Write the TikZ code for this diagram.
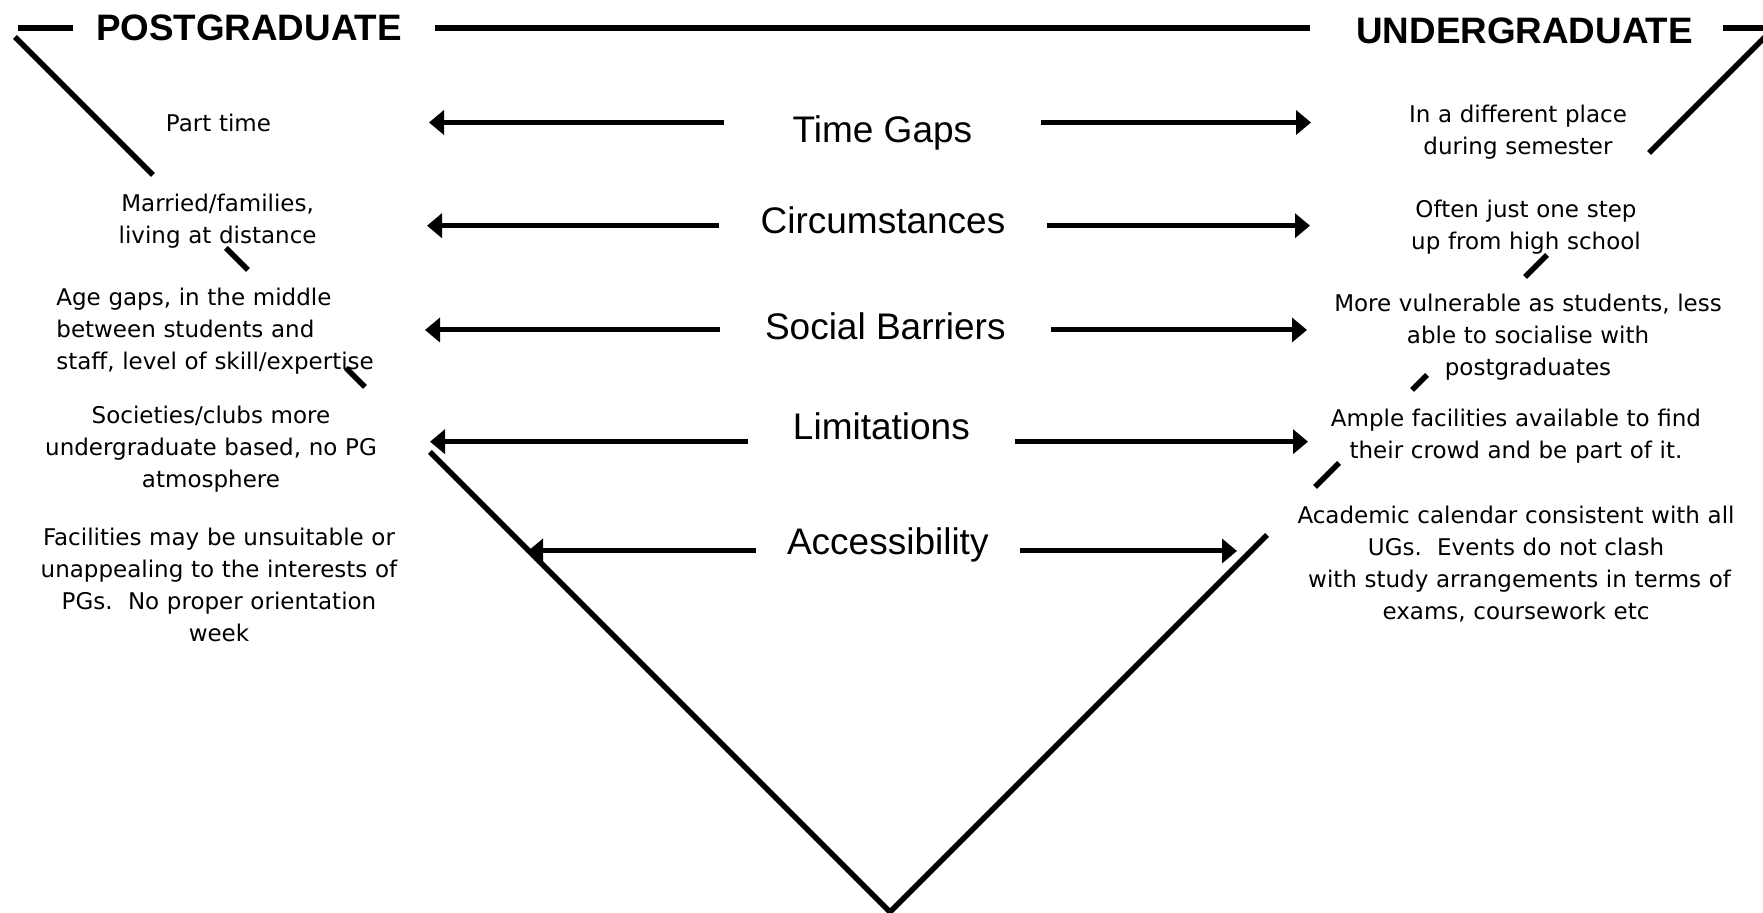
\documentclass[tikz,border=0pt]{standalone}
\usepackage{fontspec}
\usetikzlibrary{arrows.meta}
\newfontfamily\labelfont{Liberation Sans}
\newfontfamily\notefont{DejaVu Sans}

\begin{document}
\begin{tikzpicture}[x=0.5pt,y=-0.5pt,
  frame/.style={line width=2.8pt},
  bar/.style={line width=2.5pt,
    {Triangle[length=7.5pt,width=12pt]}-{Triangle[length=7.5pt,width=12pt]}},
  heading/.style={font=\labelfont\bfseries\fontsize{18.4pt}{22pt}\selectfont,
    inner sep=0pt, anchor=base},
  theme/.style={font=\labelfont\fontsize{18.5pt}{22pt}\selectfont,
    fill=white, inner xsep=0pt, inner ysep=4pt, anchor=base},
  note/.style={font=\notefont\fontsize{11.5pt}{16pt}\selectfont,
    inner sep=0pt, text width=230pt, align=center, anchor=base},
  notel/.style={note, align=left, anchor=base west},
]
\path[use as bounding box, fill=white] (0,0) rectangle (1763,913);

% ---- top rule, interrupted by the two headings
\coordinate (t0) at (18,28);   \coordinate (t1) at (73,28);
\coordinate (t2) at (435,28);  \coordinate (t3) at (1310,28);
\coordinate (t4) at (1723,28); \coordinate (t5) at (1775,28);
\draw[frame] (t0) -- (t1);
\draw[frame] (t2) -- (t3);
\draw[frame] (t4) -- (t5);

% ---- the funnel: two 45 degree sides meeting at the bottom,
%      broken where the side notes sit on them
\coordinate (v) at (890,912);
\draw[frame] (15,37) -- (153,175);
\draw[frame] (226,248) -- (248,270);
\draw[frame] (346,368) -- (365,387);
\draw[frame, miter limit=10] (430,452) -- (v) -- (1267,535);
\draw[frame] (1315,487) -- (1339,463);
\draw[frame] (1412,390) -- (1427,375);
\draw[frame] (1525,277) -- (1547,255);
\draw[frame] (1649,153) -- (1775,27);

% ---- double arrows, one per theme
\coordinate (l1) at (429,122.5);  \coordinate (r1) at (1311,122.5);
\coordinate (l2) at (427,225.7);  \coordinate (r2) at (1310,225.7);
\coordinate (l3) at (425,330);    \coordinate (r3) at (1307,330);
\coordinate (l4) at (430,441.7);  \coordinate (r4) at (1308,441.7);
\coordinate (l5) at (528,551);    \coordinate (r5) at (1237,551);
\draw[bar] (l1) -- (r1);
\draw[bar] (l2) -- (r2);
\draw[bar] (l3) -- (r3);
\draw[bar] (l4) -- (r4);
\draw[bar] (l5) -- (r5);

% ---- theme labels (white boxes over the arrow shafts)
\node[theme, minimum width=158.4pt] (tg) at (882.4,143)   {Time Gaps};
\node[theme, minimum width=163.9pt] (ci) at (883,233.5)   {Circumstances};
\node[theme, minimum width=165.7pt] (sb) at (885.3,340)   {Social Barriers};
\node[theme, minimum width=133.7pt] (li) at (881.4,440)   {Limitations};
\node[theme, minimum width=132.2pt] (as) at (887.8,555)   {Accessibility};

% ---- headings
\node[heading] (pg) at (249,41)    {POSTGRADUATE};
\node[heading] (ug) at (1524.7,44) {UNDERGRADUATE};

% ---- postgraduate notes
\node[note]  (pt) at (218.5,132) {Part time};
\node[note]  (mf) at (217.6,212) {Married/families,\\ living at distance};
\node[notel] (ag) at (56,306)    {Age gaps, in the middle\\ between students and\\ staff, level of skill/expertise};
\node[note]  (sc) at (211,424)   {Societies/clubs more\\ undergraduate based, no PG\\ atmosphere};
\node[note]  (fa) at (219,546)   {Facilities may be unsuitable or\\ unappealing to the interests of\\ PGs.\ \ No proper orientation\\ week};

% ---- undergraduate notes
\node[note] (dp) at (1518,123) {In a different place\\ during semester};
\node[note] (os) at (1526,218) {Often just one step\\ up from high school};
\node[note] (mv) at (1528,312) {More vulnerable as students, less\\ able to socialise with\\ postgraduates};
\node[note] (af) at (1516,427) {Ample facilities available to find\\ their crowd and be part of it.};
\node[note] (cal) at (1516,524) {Academic calendar consistent with all\\ UGs.\ \ Events do not clash\\ \hspace*{3.6pt}with study arrangements in terms of\\ exams, coursework etc};
\end{tikzpicture}
\end{document}
